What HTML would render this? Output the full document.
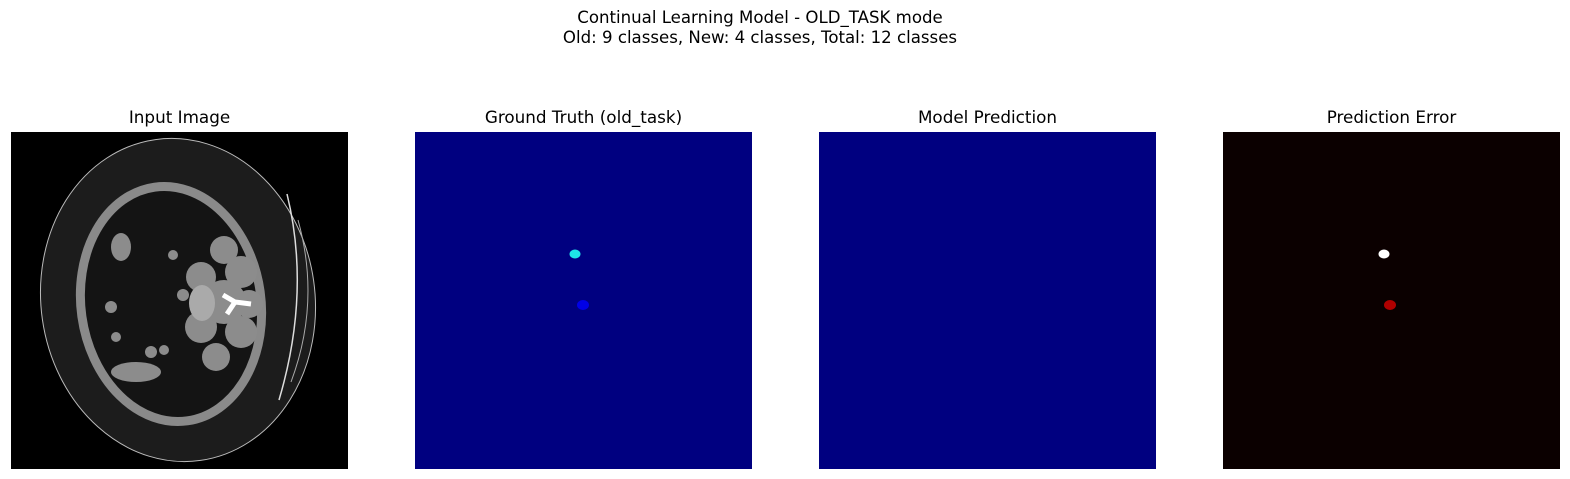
<!DOCTYPE html>
<html><head><meta charset="utf-8"><style>
body{margin:0;background:#fff;width:1570px;height:479px;overflow:hidden;font-family:"DejaVu Sans","Liberation Sans",sans-serif;}
.t{position:absolute;font-size:16.8px;color:#000;text-align:center;}
.p{position:absolute;top:132px;width:337px;height:337px;}
</style></head><body>
<div class="t" style="left:0;width:1520px;top:8px;line-height:20px;font-size:16.6px">Continual Learning Model - OLD_TASK mode<br>Old: 9 classes, New: 4 classes, Total: 12 classes</div>

<div class="t" style="left:11px;width:337px;top:107px">Input Image</div>
<div class="t" style="left:415px;width:337px;top:107px">Ground Truth (old_task)</div>
<div class="t" style="left:819px;width:337px;top:107px">Model Prediction</div>
<div class="t" style="left:1223px;width:337px;top:107px">Prediction Error</div>

<svg class="p" style="left:11px" viewBox="0 0 337 337">
<rect width="337" height="337" fill="#000"/>
<ellipse cx="167" cy="168" rx="137" ry="162" transform="rotate(-8 167 168)" fill="#1c1c1c" stroke="#bbb" stroke-width="1"/>
<path d="M276 62 Q300 160 268 268" stroke="#ddd" stroke-width="1.5" fill="none"/>
<path d="M287 88 Q310 170 280 250" stroke="#aaa" stroke-width="1" fill="none"/>
<ellipse cx="160" cy="172" rx="90" ry="118" transform="rotate(-8 160 172)" fill="#141414" stroke="#8a8a8a" stroke-width="9"/>
<g fill="#8c8c8c">
<circle cx="213" cy="118" r="14"/><circle cx="230" cy="140" r="16"/><circle cx="190" cy="145" r="15"/>
<circle cx="238" cy="172" r="14"/><circle cx="190" cy="195" r="16"/><circle cx="230" cy="200" r="16"/>
<circle cx="205" cy="225" r="14"/><circle cx="213" cy="170" r="22"/>
<ellipse cx="125" cy="240" rx="25" ry="10"/><ellipse cx="110" cy="115" rx="10" ry="14"/>
<circle cx="162" cy="123" r="5"/><circle cx="172" cy="163" r="6"/><circle cx="100" cy="175" r="6"/>
<circle cx="140" cy="220" r="6"/><circle cx="153" cy="218" r="5"/><circle cx="105" cy="205" r="5"/>
</g>
<ellipse cx="191" cy="171" rx="13" ry="18" fill="#aaa"/>
<path d="M212 163 L224 170 L240 172 M224 170 L216 182" stroke="#fff" stroke-width="5" fill="none"/>
</svg>

<svg class="p" style="left:415px" viewBox="0 0 337 337">
<rect width="337" height="337" fill="#000080"/>
<ellipse cx="160" cy="122" rx="5.5" ry="4.5" fill="#1ee6e6"/>
<ellipse cx="168" cy="173" rx="6" ry="5" fill="#0000e6"/>
</svg>

<svg class="p" style="left:819px" viewBox="0 0 337 337">
<rect width="337" height="337" fill="#000080"/>
</svg>

<svg class="p" style="left:1223px" viewBox="0 0 337 337">
<rect width="337" height="337" fill="#0b0000"/>
<ellipse cx="161" cy="122" rx="5.5" ry="4.5" fill="#fff"/>
<ellipse cx="167" cy="173" rx="6" ry="5" fill="#b00000"/>
</svg>
</body></html>
